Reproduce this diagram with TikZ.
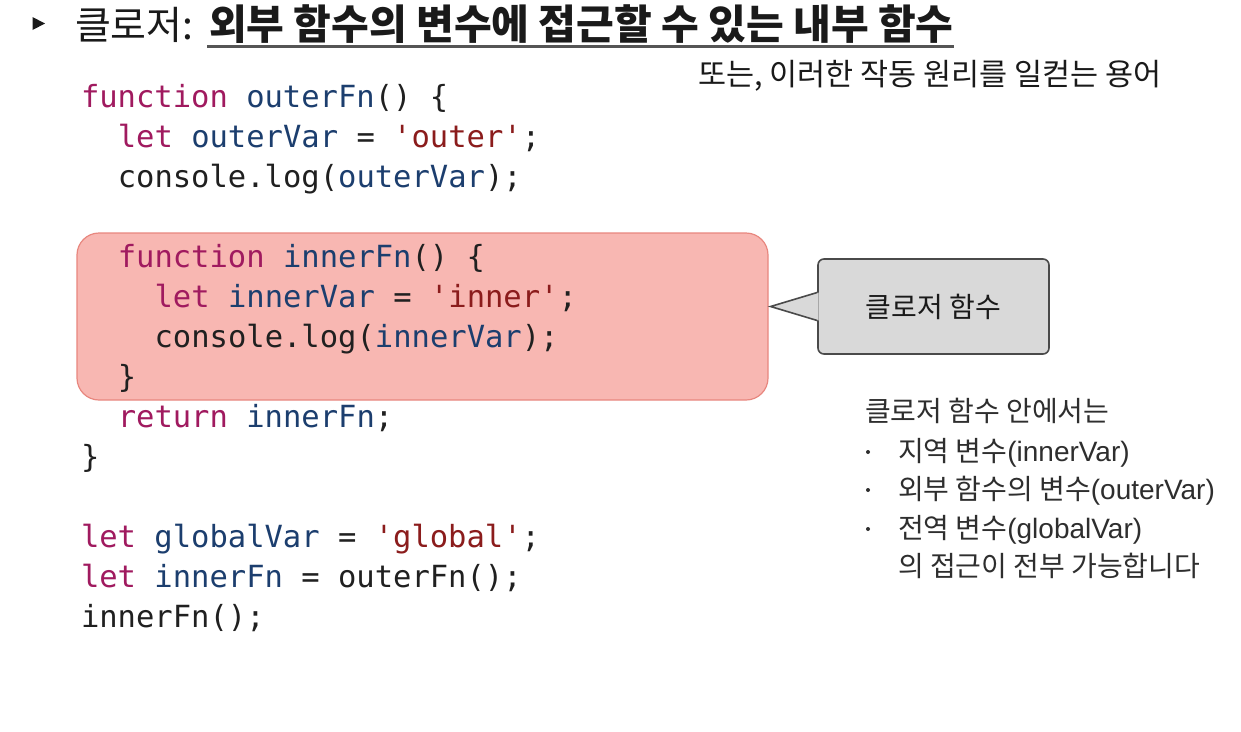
\documentclass[tikz,border=0pt]{standalone}
\usepackage{fontspec}
\setmainfont{Noto Sans CJK KR}
\newfontfamily\codefont{DejaVu Sans Mono}
\newfontfamily\latinfont{Liberation Sans}
\definecolor{kwcol}{HTML}{A01A5F}
\definecolor{idcol}{HTML}{1C3E6E}
\definecolor{strcol}{HTML}{8B1C1C}
\definecolor{plaincol}{HTML}{202020}
\definecolor{titlecol}{HTML}{1A1A1A}
\definecolor{ulcol}{HTML}{555555}
\definecolor{bodycol}{HTML}{2E2E2E}
\definecolor{redfill}{HTML}{F8B7B2}
\definecolor{redline}{HTML}{E8877F}
\definecolor{calloutfill}{HTML}{D9D9D9}
\definecolor{calloutline}{HTML}{4A4A4A}
\newcommand\kwc[1]{\textcolor{kwcol}{#1}}
\newcommand\idc[1]{\textcolor{idcol}{#1}}
\newcommand\strc[1]{\textcolor{strcol}{#1}}
\newcommand\lat[1]{{\latinfont #1}}
\newcommand\sq{\textquotesingle}
\begin{document}
\begin{tikzpicture}[x=1pt,y=-1pt,
  txt/.style={inner sep=0pt, outer sep=0pt, anchor=base west},
  titletxt/.style={txt, text=titlecol, font=\fontsize{39}{42}\selectfont},
  subtxt/.style={txt, text=titlecol, font=\fontsize{30.5}{34}\selectfont},
  codeline/.style={txt, text=plaincol, font=\codefont\fontsize{30.5}{36}\selectfont},
  bodytxt/.style={txt, text=bodycol, font=\fontsize{28}{32}\selectfont},
  redbox/.style={draw=redline, fill=redfill, line width=1.2pt, rounded corners=22pt,
    minimum width=691pt, minimum height=167pt, inner sep=0pt},
  calloutbox/.style={draw=calloutline, fill=calloutfill, line width=1.6pt, rounded corners=6pt,
    minimum width=231pt, minimum height=95pt, inner sep=0pt, text=titlecol,
    font=\fontsize{28}{32}\selectfont},
  bulletdot/.style={circle, fill=bodycol, inner sep=0pt, minimum size=4pt}
]
\useasboundingbox (0,0) rectangle (1241,731);
\fill[white] (0,0) rectangle (1241,731);

% title
\fill[titlecol] (32.5,17) -- (45,23.5) -- (32.5,30) -- cycle;
\node[titletxt] (t1) at (75,39.5) {클로저:};
\node[titletxt, font=\fontsize{41}{44}\selectfont\bfseries] (t2) at (209,39.5) {외부 함수의 변수에 접근할 수 있는 내부 함수};
\draw[ulcol, line width=3pt] ([xshift=-2pt,yshift=-7pt]t2.base west) -- ([yshift=-7pt]t2.base east);
\node[subtxt] (sub) at (698,85) {또는, 이러한 작동 원리를 일컫는 용어};

% closure highlight box
\node[redbox] (closure) at (422.5,316.5) {};

% code
\node[codeline] (c1) at (81,107) {\kwc{function} \idc{outerFn}() \{};
\node[codeline] (c2) at (117.8,147) {\kwc{let} \idc{outerVar} = \strc{\sq outer\sq};};
\node[codeline] (c3) at (117.8,187) {console.log(\idc{outerVar});};
\node[codeline] (c4) at (117.8,267) {\kwc{function} \idc{innerFn}() \{};
\node[codeline] (c5) at (154.6,307) {\kwc{let} \idc{innerVar} = \strc{\sq inner\sq};};
\node[codeline] (c6) at (154.6,347) {console.log(\idc{innerVar});};
\node[codeline] (c7) at (117.8,387) {\}};
\node[codeline] (c8) at (117.8,427) {\kwc{return} \idc{innerFn};};
\node[codeline] (c9) at (81,467) {\}};
\node[codeline] (c10) at (81,547) {\kwc{let} \idc{globalVar} = \strc{\sq global\sq};};
\node[codeline] (c11) at (81,587) {\kwc{let} \idc{innerFn} = outerFn();};
\node[codeline] (c12) at (81,627) {innerFn();};

% callout
\node[calloutbox] (callout) at (933.5,306.5) {클로저 함수};
\coordinate (tip) at ([xshift=2pt]closure.east |- callout.west);
\fill[calloutfill] ([xshift=1.5pt,yshift=14pt]callout.west) -- (tip) -- ([xshift=1.5pt,yshift=-14pt]callout.west) -- cycle;
\draw[calloutline, line width=1.6pt, line join=miter] ([yshift=14pt]callout.west) -- (tip) -- ([yshift=-14pt]callout.west);

% explanation
\node[bodytxt] (b0) at (865,421) {클로저 함수 안에서는};
\node[bulletdot] (d1) at (868,452) {};
\node[bodytxt] (b1) at (898,461) {지역 변수\lat{(innerVar)}};
\node[bulletdot] (d2) at (868,490) {};
\node[bodytxt] (b2) at (898,499) {외부 함수의 변수\lat{(outerVar)}};
\node[bulletdot] (d3) at (868,529) {};
\node[bodytxt] (b3) at (898,538) {전역 변수\lat{(globalVar)}};
\node[bodytxt] (b4) at (898,576) {의 접근이 전부 가능합니다};
\end{tikzpicture}
\end{document}
